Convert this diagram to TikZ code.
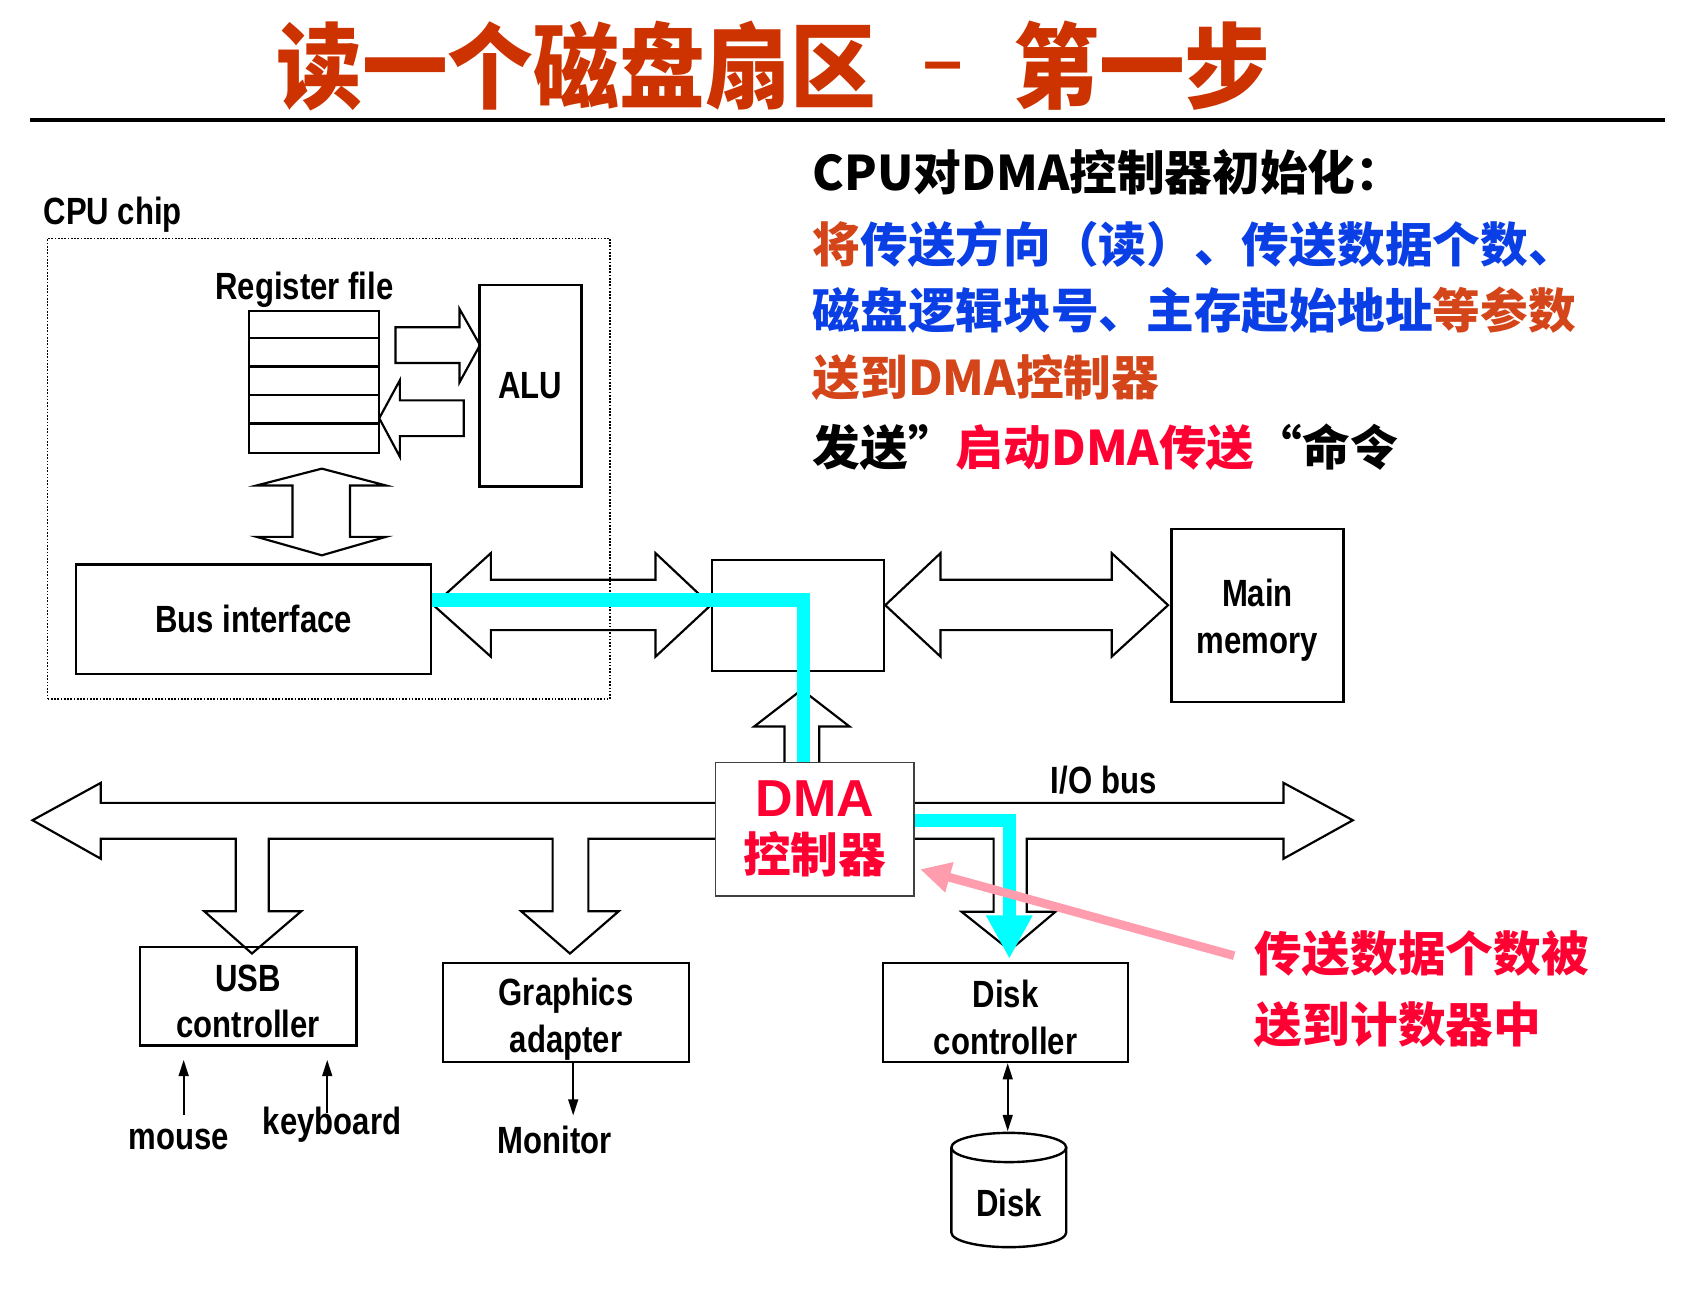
\documentclass[tikz,border=0pt]{standalone}
\usepackage{fontspec}
\setmainfont{Liberation Sans}
\newfontfamily\labelfont{Liberation Sans}[FakeStretch=0.82]
\newfontfamily\cjk{Noto Sans CJK SC}
\newfontfamily\cjktitle{Noto Sans CJK SC}[FakeStretch=0.92]
\usepackage{xcolor}
\usetikzlibrary{arrows.meta}
\definecolor{titlered}{HTML}{CC3300}
\definecolor{paramorange}{HTML}{D4451A}
\definecolor{paramblue}{HTML}{0B3FE6}
\definecolor{alertred}{HTML}{FF0033}
\definecolor{dmacyan}{HTML}{00FFFF}
\definecolor{notepink}{HTML}{FF9CAD}
% taller first line so two-line labels sit a little lower in their boxes
\newcommand{\firstline}{\rule{0pt}{34pt}}

\tikzset{
  box/.style={draw, line width=2.2pt, inner sep=0pt, align=center,
    font=\labelfont\bfseries\fontsize{35}{43}\selectfont},
  lbl/.style={inner sep=0pt, font=\labelfont\bfseries\fontsize{35}{43}\selectfont},
  chipbox/.style={draw, line width=1.5pt, dash pattern=on 1.5pt off 1.5pt, inner sep=0pt},
  blockarrow/.style={draw, line width=2pt, line join=miter},
  thinarrow/.style={line width=2pt, -{Triangle[length=15pt,width=9pt]}},
  dmapath/.style={draw=dmacyan, line width=12.5pt},
  noteptr/.style={draw=notepink, line width=8pt, -{Triangle[length=28pt,width=27pt]}},
  titletext/.style={inner sep=0pt, text=titlered, font=\cjktitle\bfseries\fontsize{86}{90}\selectfont},
  cjktext/.style={inner sep=0pt, anchor=west, font=\cjk\bfseries\fontsize{44}{50}\selectfont},
}

\begin{document}
\begin{tikzpicture}[x=1pt,y=-1pt]
% canvas = slide size
\fill[white] (0,0) rectangle (1568,1201);
\useasboundingbox (0,0) rectangle (1568,1201);

% title and rule
\node[titletext, anchor=west] (title1) at (255,61) {读一个磁盘扇区};
\node[titletext, font=\rmfamily\bfseries\fontsize{65}{70}\selectfont] (titledash) at (870,68) {–};
\node[titletext, anchor=west] (title2) at (935,61) {第一步};
\draw[line width=3.5pt] (28,111) -- (1537,111);

% what the CPU hands to the DMA controller
\node[cjktext, text=black] (init) at (750,159) {CPU对DMA控制器初始化：};
\node[cjktext] (param1) at (750,225) {\textcolor{paramorange}{将}\textcolor{paramblue}{传送方向（读）、传送数据个数、}};
\node[cjktext] (param2) at (750,286) {\textcolor{paramblue}{磁盘逻辑块号、主存起始地址}\textcolor{paramorange}{等参数}};
\node[cjktext, text=paramorange] (param3) at (750,348) {送到DMA控制器};
\node[cjktext, text=black] (cmd) at (750,413) {发送”\textcolor{alertred}{启动DMA传送}“命令};

% CPU chip
\node[chipbox, minimum width=519pt, minimum height=425pt] (cpuchip) at (303.5,432.5) {};
\node[lbl, anchor=west] (chiplabel) at (40,198) {CPU chip};
\node[lbl] (reglabel) at (281,267) {Register file};
\node[box, minimum width=120pt, minimum height=131pt] (regfile) at (290,352.5) {};
\foreach \k in {1,...,4}
  \draw[line width=2.2pt] ([yshift=-\k*26.2pt]regfile.north west) -- ([yshift=-\k*26.2pt]regfile.north east);
\node[box, minimum width=94pt, minimum height=186pt] (alu) at (489.5,356) {ALU};
\node[box, minimum width=328pt, minimum height=101pt] (busif) at (234,571.5) {Bus interface};

% block arrows inside the chip
\draw[blockarrow] (365,302) -- (424,302) -- (424,285) -- (443,318.5) -- (424,353) -- (424,335) -- (365,335) -- cycle;
\draw[blockarrow] (428,369.5) -- (369,369.5) -- (369,351) -- (350,386) -- (369,421.5) -- (369,402.5) -- (428,402.5) -- cycle;
\draw[blockarrow] (297,432.5) -- (356,448) -- (323,448) -- (323,495.5) -- (356,495.5) -- (297,512.5) -- (237,495.5) -- (270,495.5) -- (270,448) -- (237,448) -- cycle;

% system bus, bridge and memory bus
\node[box, minimum width=159pt, minimum height=102pt] (bridge) at (736.5,568) {};
\node[box, minimum width=159pt, minimum height=160pt] (mainmem) at (1160.5,568) {\firstline Main\\memory};
\draw[blockarrow] (400,558.5) -- (453,510.5) -- (453,535) -- (605,535) -- (605,510.5) -- (656,558.5) -- (605,606) -- (605,581.5) -- (453,581.5) -- (453,606) -- cycle;
\draw[blockarrow] (817,558.5) -- (868,510.5) -- (868,535) -- (1026,535) -- (1026,510.5) -- (1078,558.5) -- (1026,606) -- (1026,581.5) -- (868,581.5) -- (868,606) -- cycle;
\draw[blockarrow] (724,703.5) -- (724,670.5) -- (696,670.5) -- (740,636.5) -- (784,670.5) -- (756,670.5) -- (756,703.5);

% I/O bus with branches
\draw[blockarrow] (661,741) -- (93,741) -- (93,722.5) -- (30,757) -- (93,792.5) -- (93,774) -- (217.5,774) -- (217.5,841) -- (188.5,841) -- (232.5,880) -- (278,841) -- (248,841) -- (248,774) -- (510,774) -- (510,841) -- (481,841) -- (526,880) -- (571,841) -- (543,841) -- (543,774) -- (661,774);
\draw[blockarrow] (843,741) -- (1184.5,741) -- (1184.5,722.5) -- (1248.5,757) -- (1184.5,792.5) -- (1184.5,774) -- (947.5,774) -- (947.5,841.5) -- (974,841.5) -- (932,877) -- (887.5,841.5) -- (917,841.5) -- (917,774) -- (843,774);
\node[lbl] (iobus) at (1018.5,720) {I/O bus};

% DMA controller
\node[box, line width=1.4pt, draw=black!75, fill=white, minimum width=183pt, minimum height=123.5pt, text=alertred] (dma) at (752,765.25)
  {{\rmfamily\bfseries\fontsize{48}{50}\selectfont DMA}\\[9pt]{\cjk\bfseries\fontsize{44}{50}\selectfont 控制器}};

% devices
\node[box, minimum width=200pt, minimum height=91pt] (usb) at (229,919.5) {\firstline USB\\controller};
\node[box, minimum width=227pt, minimum height=91pt] (graphics) at (522.5,934.5) {\rule{0pt}{38pt}Graphics\\adapter};
\node[box, minimum width=226pt, minimum height=91pt] (diskctl) at (928,934.5) {\firstline Disk\\controller};
\node[lbl] (mouse) at (165,1052) {mouse};
\node[lbl] (keyboard) at (306.5,1038) {keyboard};
\node[lbl] (monitor) at (512,1052) {Monitor};
\draw[thinarrow] ([xshift=4.5pt,yshift=13pt]mouse.north) -- ([xshift=-59.5pt,yshift=-12pt]usb.south);
\draw[thinarrow] ([xshift=-4.5pt,yshift=-5.5pt]keyboard.north) -- ([xshift=73pt,yshift=-12pt]usb.south);
\draw[thinarrow] ([xshift=6.5pt]graphics.south) -- ([xshift=17pt,yshift=9.4pt]monitor.north);

% disk
\draw[line width=2.2pt] (878,1059) -- (878,1137.5) arc[start angle=180, end angle=360, x radius=53pt, y radius=13.5pt] -- (984,1059);
\draw[line width=2.2pt] (931,1059) ellipse [x radius=53pt, y radius=13.5pt];
\node[lbl] (disk) at (931.5,1110) {Disk};
\coordinate (disktop) at (930,1044);
\draw[line width=2pt, {Triangle[length=15pt,width=9pt]}-{Triangle[length=15pt,width=9pt]}] ([xshift=2pt]diskctl.south) -- (disktop);

% DMA data path
\draw[dmapath] ([yshift=18pt]busif.east) -| ([xshift=-10.5pt]dma.north);
\draw[dmapath, -{Triangle[length=40pt,width=40pt]}] ([yshift=8pt]dma.east) -| ([xshift=3.5pt,yshift=3pt]diskctl.north);

% counter note
\node[cjktext, text=alertred] (note1) at (1158,880) {传送数据个数被};
\node[cjktext, text=alertred] (note2) at (1158,946) {送到计数器中};
\draw[noteptr] ([xshift=-19pt,yshift=-2pt]note1.west) -- ([xshift=5pt,yshift=-37pt]dma.east);
\end{tikzpicture}
\end{document}
